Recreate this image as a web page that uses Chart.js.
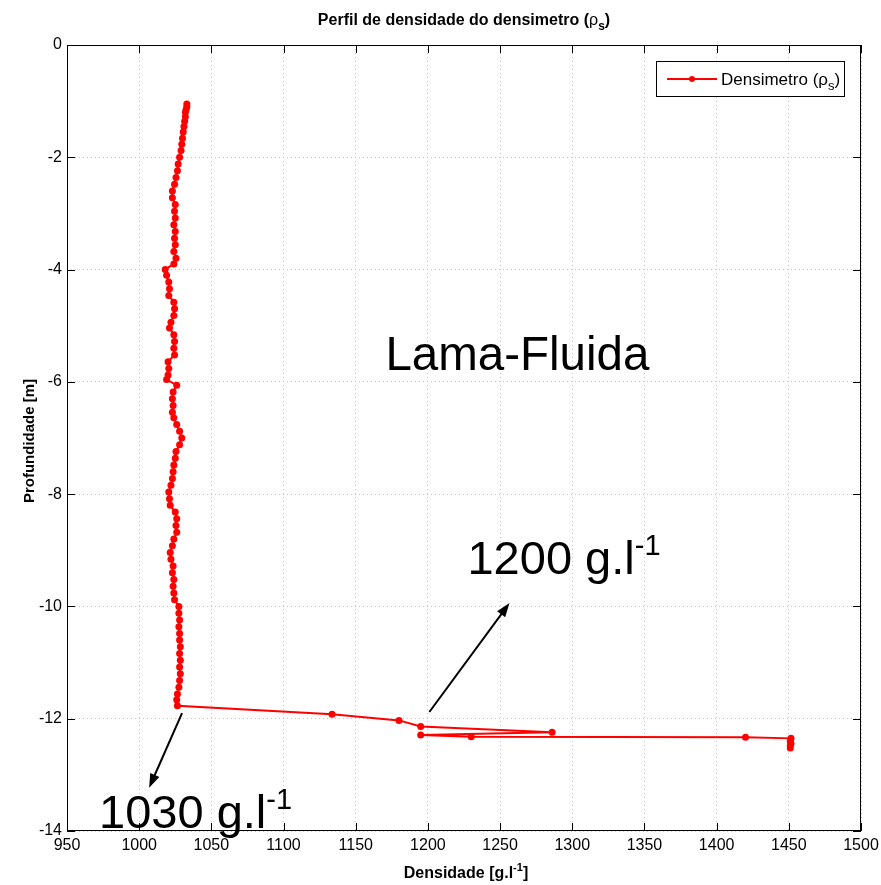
<!DOCTYPE html>
<html>
<head>
<meta charset="utf-8">
<script src="https://cdn.jsdelivr.net/npm/chart.js@4/dist/chart.umd.min.js"></script>
<style>
body { margin: 0; background: #fff; }
</style>
</head>
<body>
<canvas id="myChart" width="881" height="885"></canvas>
<script>
const depths = [
    -1.05, -1.10, -1.15, -1.20, -1.28, -1.36, -1.45, -1.55, -1.66, -1.77,
    -1.88, -2.00, -2.12, -2.24, -2.36, -2.48, -2.60, -2.72, -2.84, -2.96,
    -3.08, -3.20, -3.32, -3.44, -3.56, -3.68, -3.80, -3.90, -4.00, -4.10,
    -4.22, -4.34, -4.46, -4.58, -4.70, -4.82, -4.94, -5.04, -5.16, -5.28,
    -5.40, -5.52, -5.64, -5.76, -5.88, -5.96, -6.06, -6.18, -6.30, -6.42,
    -6.54, -6.64, -6.76, -6.88, -7.00, -7.12, -7.24, -7.36, -7.48, -7.60,
    -7.72, -7.84, -7.96, -8.08, -8.20, -8.32, -8.44, -8.56, -8.68, -8.80,
    -8.92, -9.04, -9.16, -9.28, -9.40, -9.52, -9.64, -9.76, -9.88, -10.00,
    -10.12, -10.24, -10.36, -10.48, -10.60, -10.72, -10.84, -10.96, -11.08, -11.20,
    -11.32, -11.44, -11.56, -11.66, -11.77, -11.92, -12.03, -12.14, -12.24, -12.29,
    -12.32, -12.33, -12.35, -12.40, -12.44, -12.48, -12.52
];
const densities = [
    1033, 1033, 1032.5, 1032, 1032, 1031.5, 1031, 1030.5, 1030, 1029.5,
    1029, 1028, 1027, 1026.5, 1025.5, 1024.5, 1023, 1023, 1025, 1024.5,
    1025, 1024, 1025, 1024.5, 1025, 1024, 1025.5, 1024, 1018, 1019,
    1020.5, 1021, 1020.5, 1024, 1024.5, 1024, 1022, 1021, 1024, 1024.5,
    1024, 1024.5, 1020, 1020.5, 1020, 1019, 1026, 1023.5, 1023, 1023.5,
    1023, 1024, 1026, 1028, 1029.5, 1028, 1025.5, 1025, 1024, 1023.5,
    1023, 1022, 1020.5, 1021, 1021.5, 1025, 1026, 1025.5, 1026, 1024,
    1023, 1021.5, 1022, 1023.5, 1023, 1024, 1023.5, 1024, 1024.5, 1027.5,
    1027.5, 1028, 1027.5, 1028, 1028, 1028.5, 1028, 1028.5, 1028, 1028.5,
    1028, 1027.5, 1026.5, 1026, 1026.5, 1133.6, 1180, 1195, 1286, 1195,
    1230, 1420, 1451.5, 1451, 1451.5, 1451, 1451
];
const xTicks = [950, 1000, 1050, 1100, 1150, 1200, 1250, 1300, 1350, 1400, 1450, 1500];
const yTicks = [0, -2, -4, -6, -8, -10, -12, -14];

const FONT = "'Liberation Sans', Arial, Helvetica, sans-serif";

const points = depths.map((d, i) => ({ x: densities[i], y: d }));

// texto com sub/sobrescrito: partes [{t, size, dy, bold}]
function drawParts(ctx, parts, x, y, align) {
    let total = 0;
    parts.forEach(p => {
        ctx.font = (p.bold ? 'bold ' : '') + p.size + 'px ' + FONT;
        p.w = ctx.measureText(p.t).width;
        total += p.w;
    });
    let cx = x;
    if (align === 'center') cx = x - total / 2;
    if (align === 'right') cx = x - total;
    ctx.textAlign = 'left';
    parts.forEach(p => {
        ctx.font = (p.bold ? 'bold ' : '') + p.size + 'px ' + FONT;
        ctx.fillText(p.t, cx, y + (p.dy || 0));
        cx += p.w;
    });
}

function arrow(ctx, x1, y1, x2, y2) {
    const a = Math.atan2(y2 - y1, x2 - x1);
    const len = 14, half = 5;
    ctx.beginPath();
    ctx.moveTo(x1, y1);
    ctx.lineTo(x2 - Math.cos(a) * len * 0.8, y2 - Math.sin(a) * len * 0.8);
    ctx.stroke();
    ctx.beginPath();
    ctx.moveTo(x2, y2);
    ctx.lineTo(x2 - Math.cos(a) * len - Math.sin(a) * half, y2 - Math.sin(a) * len + Math.cos(a) * half);
    ctx.lineTo(x2 - Math.cos(a) * len + Math.sin(a) * half, y2 - Math.sin(a) * len - Math.cos(a) * half);
    ctx.closePath();
    ctx.fill();
}

const decorations = {
    id: 'decorations',
    afterDraw(chart) {
        const ctx = chart.ctx;
        const area = chart.chartArea;
        const sx = chart.scales.x, sy = chart.scales.y;
        ctx.save();
        ctx.fillStyle = '#000';
        ctx.strokeStyle = '#000';

        // caixa e ticks para dentro
        ctx.lineWidth = 1;
        ctx.strokeRect(Math.round(area.left) + 0.5, Math.round(area.top) + 0.5,
            Math.round(area.right - area.left) - 1, Math.round(area.bottom - area.top) - 1);
        ctx.beginPath();
        xTicks.forEach(v => {
            const px = Math.round(sx.getPixelForValue(v)) + 0.5;
            ctx.moveTo(px, area.bottom); ctx.lineTo(px, area.bottom - 8);
            ctx.moveTo(px, area.top); ctx.lineTo(px, area.top + 8);
        });
        yTicks.forEach(v => {
            const py = Math.round(sy.getPixelForValue(v)) + 0.5;
            ctx.moveTo(area.left, py); ctx.lineTo(area.left + 8, py);
            ctx.moveTo(area.right, py); ctx.lineTo(area.right - 8, py);
        });
        ctx.stroke();

        // titulo
        ctx.textBaseline = 'alphabetic';
        const cx = (area.left + area.right) / 2;
        drawParts(ctx, [
            { t: 'Perfil de densidade do densimetro (', size: 16, bold: true },
            { t: 'ρ', size: 16 },
            { t: 's', size: 12, dy: 5, bold: true },
            { t: ')', size: 16, bold: true }
        ], cx, 25, 'center');

        // eixo x
        drawParts(ctx, [
            { t: 'Densidade [g.l', size: 16, bold: true },
            { t: '-1', size: 11, dy: -7, bold: true },
            { t: ']', size: 16, bold: true }
        ], cx + 2, 878, 'center');

        // eixo y
        ctx.save();
        ctx.translate(34, (area.top + area.bottom) / 2 + 3);
        ctx.rotate(-Math.PI / 2);
        drawParts(ctx, [{ t: 'Profundidade [m]', size: 15, bold: true }], 0, 0, 'center');
        ctx.restore();

        // legenda
        const lx = area.right - 205, ly = area.top + 16;
        ctx.fillStyle = '#fff';
        ctx.fillRect(lx, ly, 188, 35);
        ctx.strokeRect(lx + 0.5, ly + 0.5, 188, 35);
        ctx.strokeStyle = 'red';
        ctx.fillStyle = 'red';
        ctx.lineWidth = 2;
        ctx.beginPath();
        ctx.moveTo(lx + 11, ly + 18); ctx.lineTo(lx + 61, ly + 18);
        ctx.stroke();
        ctx.beginPath();
        ctx.arc(lx + 36, ly + 18, 3, 0, Math.PI * 2);
        ctx.fill();
        ctx.fillStyle = '#000';
        drawParts(ctx, [
            { t: 'Densimetro (', size: 17 },
            { t: 'ρ', size: 17 },
            { t: 's', size: 13, dy: 5 },
            { t: ')', size: 17 }
        ], lx + 65, ly + 24, 'left');

        // anotacoes
        ctx.fillStyle = '#000';
        ctx.strokeStyle = '#000';
        ctx.lineWidth = 2;
        drawParts(ctx, [{ t: 'Lama-Fluida', size: 47.5 }],
            sx.getPixelForValue(1262), sy.getPixelForValue(-5.79), 'center');
        drawParts(ctx, [{ t: '1200 g.l', size: 47 }, { t: '-1', size: 29, dy: -19 }],
            sx.getPixelForValue(1227.4), sy.getPixelForValue(-9.42), 'left');
        drawParts(ctx, [{ t: '1030 g.l', size: 47 }, { t: '-1', size: 29, dy: -19 }],
            sx.getPixelForValue(972.2), sy.getPixelForValue(-13.95), 'left');
        arrow(ctx, sx.getPixelForValue(1201), sy.getPixelForValue(-11.88),
            sx.getPixelForValue(1256.5), sy.getPixelForValue(-9.94));
        arrow(ctx, sx.getPixelForValue(1029.7), sy.getPixelForValue(-11.9),
            sx.getPixelForValue(1006.9), sy.getPixelForValue(-13.23));
        ctx.restore();
    }
};

const ctx = document.getElementById('myChart');

new Chart(ctx, {
    type: 'line',
    data: {
        datasets: [{
            label: 'Densimetro',
            data: points,
            borderColor: '#ff0000',
            backgroundColor: '#ff0000',
            borderWidth: 2,
            pointRadius: 3.5,
            pointBorderWidth: 0,
            pointHoverRadius: 3.5,
            tension: 0,
            fill: false
        }]
    },
    options: {
        responsive: false,
        animation: false,
        devicePixelRatio: 1,
        layout: { padding: { left: 0, top: 45, right: 20, bottom: 0 } },
        plugins: {
            legend: { display: false },
            tooltip: { enabled: false },
            title: { display: false }
        },
        scales: {
            x: {
                type: 'linear',
                min: 950,
                max: 1500,
                afterBuildTicks: (scale) => { scale.ticks = xTicks.map(v => ({ value: v })); },
                afterFit: (scale) => {
                    scale.height = 54;
                    scale.paddingLeft = 0;
                    scale.paddingRight = 0;
                },
                ticks: {
                    color: '#000', font: { family: FONT, size: 16 }, padding: 5, maxRotation: 0,
                    callback: (v) => String(v)
                },
                grid: { color: '#c4c4c4', drawTicks: false },
                border: { display: false, dash: [1, 3] }
            },
            y: {
                type: 'linear',
                min: -14,
                max: 0,
                afterBuildTicks: (scale) => { scale.ticks = yTicks.map(v => ({ value: v })); },
                afterFit: (scale) => {
                    scale.width = 67;
                    scale.paddingTop = 0;
                    scale.paddingBottom = 0;
                },
                ticks: {
                    color: '#000', font: { family: FONT, size: 16 }, padding: 5,
                    callback: (v) => String(v)
                },
                grid: { color: '#c4c4c4', drawTicks: false },
                border: { display: false, dash: [1, 3] }
            }
        }
    },
    plugins: [decorations]
});
</script>
</body>
</html>
